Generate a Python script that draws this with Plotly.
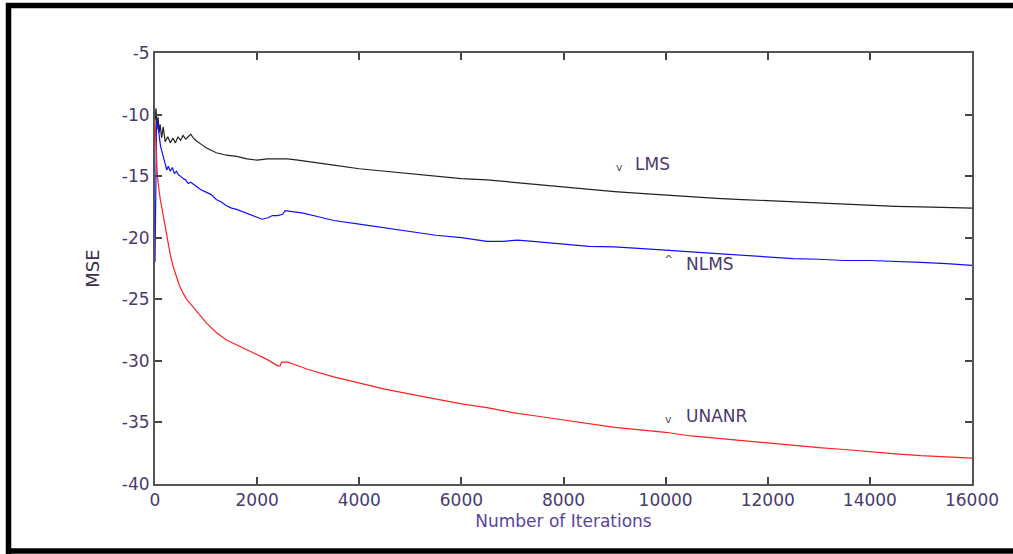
import plotly.graph_objects as go

# ---- data ----
lms_iter = [0, 20, 40, 60, 80, 100, 130, 160, 200, 250, 300, 350, 400, 450, 500, 550, 600, 650, 700, 750,
            800, 900, 1000, 1100, 1200, 1400, 1600, 1800, 2000, 2200, 2400, 2600, 2800, 3000, 3500, 4000,
            4500, 5000, 5500, 6000, 6500, 7000, 7500, 8000, 8500, 9000, 9500, 10000, 10500, 11000, 11500,
            12000, 12500, 13000, 13500, 14000, 14500, 15000, 15500, 16000]
lms_mse = [-10.5, -9.5, -11.2, -10.2, -11.5, -10.8, -11.9, -11.0, -12.2, -11.8, -12.3, -11.9, -12.3, -11.8,
           -12.1, -11.7, -12.0, -11.8, -11.6, -11.9, -12.1, -12.4, -12.7, -12.9, -13.1, -13.3, -13.4, -13.6,
           -13.7, -13.6, -13.6, -13.6, -13.7, -13.8, -14.1, -14.4, -14.6, -14.8, -15.0, -15.2, -15.3, -15.5,
           -15.7, -15.9, -16.1, -16.25, -16.4, -16.55, -16.7, -16.8, -16.9, -17.0, -17.1, -17.2, -17.3,
           -17.35, -17.45, -17.5, -17.55, -17.6]

nlms_iter = [0, 10, 30, 50, 70, 90, 110, 140, 170, 200, 230, 260, 300, 340, 380, 420, 460, 500, 550, 600,
             650, 700, 800, 900, 1000, 1100, 1200, 1300, 1400, 1500, 1600, 1800, 2000, 2100, 2200, 2300,
             2400, 2500, 2550, 2700, 2900, 3200, 3500, 4000, 4500, 5000, 5500, 6000, 6500, 6800, 7100, 7400,
             8000, 8500, 9000, 9500, 10000, 10500, 11000, 11500, 12000, 12500, 13000, 13500, 14000, 14500,
             15000, 15500, 16000]
nlms_mse = [-22.0, -15.5, -11.0, -10.5, -11.5, -12.0, -12.6, -13.0, -13.5, -14.0, -14.5, -14.2, -14.6, -14.3,
            -14.8, -14.6, -14.9, -15.0, -15.2, -15.3, -15.6, -15.5, -15.8, -16.1, -16.3, -16.5, -16.9, -17.1,
            -17.4, -17.6, -17.7, -18.0, -18.3, -18.5, -18.4, -18.2, -18.2, -18.1, -17.8, -17.9, -18.0, -18.3,
            -18.6, -18.9, -19.2, -19.5, -19.8, -20.0, -20.3, -20.3, -20.2, -20.3, -20.5, -20.7, -20.75,
            -20.85, -21.0, -21.15, -21.3, -21.45, -21.6, -21.7, -21.75, -21.85, -21.85, -21.9, -22.0, -22.1,
            -22.25]

unanr_iter = [0, 20, 40, 60, 80, 100, 140, 180, 240, 300, 360, 420, 480, 550, 620, 700, 800, 900, 1000, 1100,
              1200, 1400, 1600, 1800, 2000, 2200, 2400, 2450, 2480, 2600, 2800, 3000, 3500, 4000, 4500, 5000,
              5500, 6000, 6500, 7000, 7500, 8000, 8500, 9000, 9500, 10000, 10500, 11000, 11500, 12000, 12500,
              13000, 13500, 14000, 14500, 15000, 15500, 16000]
unanr_mse = [-10.5, -13.0, -14.5, -15.5, -16.3, -16.8, -17.7, -18.6, -20.2, -21.4, -22.4, -23.2, -23.9, -24.5,
             -25.0, -25.4, -25.9, -26.4, -26.9, -27.3, -27.7, -28.3, -28.7, -29.1, -29.5, -29.9, -30.4, -30.4,
             -30.1, -30.1, -30.4, -30.7, -31.3, -31.8, -32.3, -32.7, -33.1, -33.5, -33.8, -34.2, -34.5, -34.8,
             -35.1, -35.4, -35.6, -35.8, -36.1, -36.3, -36.5, -36.7, -36.9, -37.05, -37.2, -37.4, -37.55,
             -37.7, -37.8, -37.9]

x_tickvals = [0, 2000, 4000, 6000, 8000, 10000, 12000, 14000, 16000]
x_ticktext = ["0", "2000", "4000", "6000", "8000", "10000", "12000", "14000", "16000"]
y_tickvals = [-40, -35, -30, -25, -20, -15, -10, -5]
y_ticktext = ["-40", "-35", "-30", "-25", "-20", "-15", "-10", "-5"]

labels = ["LMS", "NLMS", "UNANR"]
label_x = [9360, 10360, 10360]
label_y = [-14.0, -22.1, -34.5]
marker_sym = ["v", "^", "v"]
marker_x = [9090, 10050, 10050]
marker_y = [-14.3, -21.75, -34.75]

FONT = "DejaVu Sans, Arial, sans-serif"
TXT = "#4a3a6e"

fig = go.Figure()
fig.add_trace(go.Scatter(x=lms_iter, y=lms_mse, mode="lines", line=dict(color="#222222", width=1.2),
                         name="LMS", showlegend=False))
fig.add_trace(go.Scatter(x=nlms_iter, y=nlms_mse, mode="lines", line=dict(color="#1010ff", width=1.2),
                         name="NLMS", showlegend=False))
fig.add_trace(go.Scatter(x=unanr_iter, y=unanr_mse, mode="lines", line=dict(color="#ff2020", width=1.2),
                         name="UNANR", showlegend=False))

for t, x, y in zip(labels, label_x, label_y):
    fig.add_annotation(x=x, y=y, xref="x", yref="y", text=t, showarrow=False, xanchor="left",
                       yanchor="middle", font=dict(family=FONT, size=17, color=TXT))
for t, x, y in zip(marker_sym, marker_x, marker_y):
    fig.add_annotation(x=x, y=y, xref="x", yref="y", text=t, showarrow=False, xanchor="center",
                       yanchor="middle", font=dict(family=FONT, size=11, color="#555555"))

# picture frame (black bars on top, left and bottom)
L, R, T, B = 155, 972, 53, 484
W, H = R - L, B - T
def px(x):
    return (x - L) / W
def py(y):
    return (B - y) / H
frame = dict(color="black", width=5.5)
fig.add_shape(type="line", xref="paper", yref="paper", x0=px(6), x1=px(1020), y0=py(5.5), y1=py(5.5), line=frame)
fig.add_shape(type="line", xref="paper", yref="paper", x0=px(8.5), x1=px(8.5), y0=py(3), y1=py(560), line=frame)
fig.add_shape(type="line", xref="paper", yref="paper", x0=px(6), x1=px(1020), y0=py(551), y1=py(551), line=frame)

axis_common = dict(showline=True, linecolor="#555555", linewidth=2, mirror="ticks", ticks="inside",
                   ticklen=7, tickwidth=1.5, tickcolor="#444444", showgrid=False, zeroline=False,
                   tickfont=dict(family=FONT, size=17, color=TXT))

fig.update_layout(
    width=1013, height=554,
    margin=dict(l=L, r=1013 - R, t=T, b=554 - B),
    paper_bgcolor="white", plot_bgcolor="white",
    xaxis=dict(range=[0, 16000], tickmode="array", tickvals=x_tickvals, ticktext=x_ticktext,
               title=dict(text="Number of Iterations", standoff=6,
                          font=dict(family=FONT, size=17, color="#5a44a0")),
               **axis_common),
    yaxis=dict(range=[-40, -5], tickmode="array", tickvals=y_tickvals, ticktext=y_ticktext,
               title=dict(text="MSE", standoff=18, font=dict(family=FONT, size=18, color="#3a3050")),
               **axis_common),
)

fig.write_html("out.html", config={"displayModeBar": False},
               post_script="document.body.style.margin='0';document.body.style.overflow='hidden';")
